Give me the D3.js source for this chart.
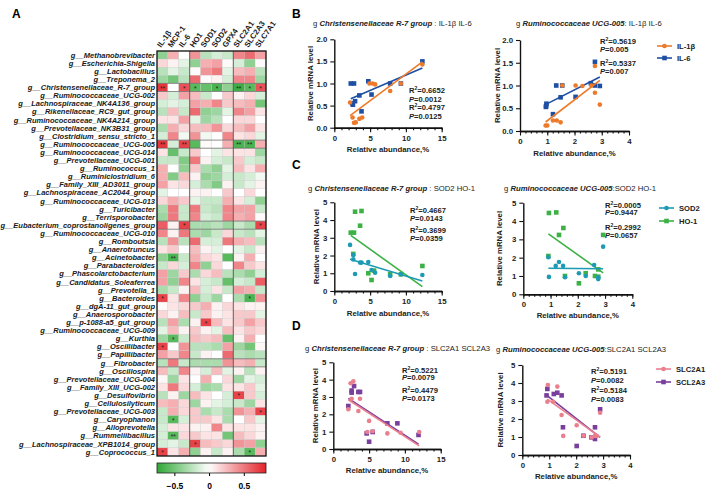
<!DOCTYPE html>
<html><head><meta charset="utf-8">
<script src="https://cdn.jsdelivr.net/npm/d3@7"></script>
<style>body{margin:0;background:#fff} text{font-family:"Liberation Sans",Arial,sans-serif}</style>
</head><body><svg id="c" width="708" height="493"></svg>
<script>
// ---------------- DATA ----------------
const genera = ["Methanobrevibacter","Escherichia-Shigella","Lactobacillus","Treponema_2","Christensenellaceae_R-7_group","Ruminococcaceae_UCG-002","Lachnospiraceae_NK4A136_group","Rikenellaceae_RC9_gut_group","Ruminococcaceae_NK4A214_group","Prevotellaceae_NK3B31_group","Clostridium_sensu_stricto_1","Ruminococcaceae_UCG-005","Ruminococcaceae_UCG-014","Prevotellaceae_UCG-001","Ruminococcus_1","Ruminiclostridium_6","Family_XIII_AD3011_group","Lachnospiraceae_AC2044_group","Ruminococcaceae_UCG-013","Turicibacter","Terrisporobacter","Eubacterium_coprostanoligenes_group","Ruminococcaceae_UCG-010","Romboutsia","Anaerotruncus","Acinetobacter","Parabacteroides","Phascolarctobacterium","Candidatus_Soleaferrea","Prevotella_1","Bacteroides","dgA-11_gut_group","Anaerosporobacter","p-1088-a5_gut_group","Ruminococcaceae_UCG-009","Kurthia","Oscillibacter","Papillibacter","Fibrobacter","Oscillospira","Prevotellaceae_UCG-004","Family_XIII_UCG-002","Desulfovibrio","Cellulosilyticum","Prevotellaceae_UCG-003","Caryophanon","Alloprevotella","Rummeliibacillus","Lachnospiraceae_XPB1014_group","Coprococcus_1"];
const genes = ["IL-1β","MCP-1","IL-6","HO1","SOD1","SOD2","GPX4","SLC2A1","SLC2A3","SLC7A1"];
const corr = [
[-0.4,0.3,0.0,0.4,-0.25,-0.15,-0.2,0.45,0.55,0.35],
[0.15,0.05,-0.1,-0.4,0.3,0.35,0.02,-0.15,-0.4,0.02],
[-0.25,-0.1,-0.2,0.02,0.4,0.5,-0.1,0.25,0.3,-0.25],
[-0.35,-0.5,-0.25,0.55,0.02,0.05,-0.15,0.45,0.45,-0.35],
[0.75,0.0,0.65,-0.6,-0.55,-0.65,-0.4,-0.7,-0.6,0.65],
[0.2,-0.15,0.35,0.25,-0.2,0.0,0.2,0.05,0.15,-0.15],
[-0.15,-0.1,-0.15,0.35,0.3,0.45,0.2,0.25,0.3,-0.5],
[-0.25,0.25,-0.2,0.55,-0.4,-0.35,-0.1,0.45,0.35,0.1],
[0.1,0.1,0.35,-0.1,-0.35,-0.25,0.0,0.15,0.15,0.0],
[-0.3,0.3,0.15,0.25,0.25,0.4,0.15,0.25,0.35,0.1],
[-0.15,0.45,-0.05,0.4,-0.05,0.0,0.45,0.1,0.15,-0.1],
[0.75,-0.15,0.7,-0.6,0.02,0.0,0.3,-0.65,-0.65,0.3],
[0.1,-0.55,-0.2,0.2,0.0,-0.1,0.1,0.1,0.1,-0.35],
[-0.2,-0.2,-0.45,0.5,0.05,-0.15,-0.2,0.2,-0.15,-0.2],
[0.3,0.0,-0.4,0.2,-0.3,-0.4,-0.1,0.25,0.1,0.3],
[0.3,-0.45,0.25,0.05,-0.4,-0.35,-0.15,-0.2,-0.15,-0.05],
[0.35,0.1,0.15,-0.15,-0.3,-0.45,0.05,-0.2,-0.1,0.05],
[-0.1,0.0,0.0,0.05,0.05,0.0,0.2,0.0,0.15,0.0],
[0.15,0.3,0.2,-0.1,-0.2,-0.2,0.3,0.1,-0.15,-0.4],
[-0.3,0.5,-0.2,0.5,-0.2,-0.25,0.45,0.35,0.35,-0.2],
[-0.35,0.5,-0.2,0.45,-0.15,-0.2,0.45,0.3,0.35,0.02],
[0.6,0.05,0.7,-0.3,-0.3,-0.25,-0.35,-0.2,-0.3,0.7],
[0.45,0.05,0.5,-0.3,-0.35,-0.2,0.15,-0.2,-0.25,-0.1],
[-0.25,0.4,-0.25,0.55,-0.15,-0.15,0.5,0.3,0.25,-0.25],
[0.1,0.2,0.0,0.25,0.05,-0.1,0.0,-0.1,-0.2,0.05],
[-0.4,-0.65,-0.2,0.3,0.15,0.1,-0.6,0.05,0.3,0.0],
[-0.2,0.15,-0.15,0.45,-0.4,0.15,0.0,0.45,0.2,0.1],
[0.35,-0.35,0.2,-0.3,0.15,0.25,-0.25,-0.3,-0.4,-0.15],
[0.35,-0.4,0.45,0.1,-0.15,-0.2,-0.55,-0.15,-0.2,0.6],
[-0.3,-0.2,0.05,0.25,-0.15,0.1,-0.2,0.35,0.3,-0.2],
[0.7,0.1,0.45,-0.4,-0.2,-0.35,0.0,-0.3,-0.65,0.4],
[0.02,0.1,0.15,0.2,0.3,0.05,0.15,0.1,0.05,0.05],
[0.15,0.05,0.25,-0.2,0.2,0.05,0.1,0.2,0.2,-0.1],
[-0.25,0.35,-0.3,0.05,0.7,0.25,0.1,0.2,0.35,0.2],
[-0.1,0.25,0.05,0.2,0.05,-0.1,0.25,0.1,0.2,0.15],
[-0.35,-0.6,-0.2,0.25,0.2,0.25,-0.55,0.05,0.3,0.0],
[0.7,0.0,0.4,-0.25,-0.25,-0.3,0.35,-0.35,-0.5,0.03],
[0.35,0.2,0.45,-0.2,0.05,0.0,0.55,-0.25,-0.3,-0.25],
[-0.25,0.5,-0.2,-0.3,-0.3,-0.3,0.4,0.25,0.3,-0.2],
[0.25,-0.2,0.45,0.05,-0.15,0.25,-0.1,0.05,-0.25,0.05],
[0.03,-0.35,0.1,0.0,0.3,0.0,0.15,-0.35,-0.1,-0.15],
[0.1,0.5,0.15,-0.15,-0.35,-0.3,0.1,0.1,0.2,-0.1],
[-0.25,0.05,-0.35,0.25,0.1,0.0,-0.15,0.7,0.2,-0.15],
[0.25,0.3,0.15,-0.35,0.05,-0.1,-0.15,-0.2,-0.35,0.1],
[-0.2,0.3,0.15,0.2,-0.3,-0.2,-0.3,0.4,0.3,0.7],
[-0.2,-0.6,-0.15,0.2,0.2,0.1,-0.3,0.0,0.2,-0.1],
[-0.15,0.1,0.1,0.05,0.05,0.45,0.1,0.1,0.1,0.05],
[-0.15,-0.6,0.15,0.2,0.1,0.1,-0.5,0.25,0.15,0.05],
[-0.15,-0.1,-0.2,0.7,0.25,0.2,0.15,0.4,0.35,-0.4],
[0.7,0.1,0.3,-0.4,0.05,-0.2,0.05,-0.3,-0.6,0.3]
];
const stars = [
["Christensenellaceae_R-7_group","IL-1β","**"],["Christensenellaceae_R-7_group","IL-6","*"],["Christensenellaceae_R-7_group","HO1","*"],["Christensenellaceae_R-7_group","SOD2","*"],["Christensenellaceae_R-7_group","SLC2A1","**"],["Christensenellaceae_R-7_group","SLC2A3","*"],["Christensenellaceae_R-7_group","SLC7A1","*"],
["Ruminococcaceae_UCG-005","IL-1β","**"],["Ruminococcaceae_UCG-005","IL-6","**"],["Ruminococcaceae_UCG-005","SLC2A1","**"],["Ruminococcaceae_UCG-005","SLC2A3","**"],
["Eubacterium_coprostanoligenes_group","IL-6","*"],["Eubacterium_coprostanoligenes_group","SLC7A1","*"],
["Acinetobacter","MCP-1","**"],["Bacteroides","IL-1β","*"],["Bacteroides","SLC2A3","*"],
["p-1088-a5_gut_group","SOD1","*"],["Kurthia","MCP-1","*"],["Oscillibacter","IL-1β","*"],
["Desulfovibrio","SLC2A1","*"],["Prevotellaceae_UCG-003","SLC7A1","*"],["Caryophanon","MCP-1","*"],
["Rummeliibacillus","MCP-1","**"],["Lachnospiraceae_XPB1014_group","HO1","*"],
["Coprococcus_1","IL-1β","*"],["Coprococcus_1","SLC2A3","*"]
];
const colorTicks = [-0.5, 0, 0.5];

// scatter data
const chrIL1bX = [2.2,2.55,2.75,3.0,3.5,3.9,4.9,5.35,5.7,7.8,9.3,12.3];
const chrIL1bY = [0.57,0.23,0.11,0.12,0.2,0.23,1.0,1.0,0.98,0.83,1.0,1.43];
const chrIL6X  = [2.3,2.75,2.5,2.6,2.9,3.5,3.8,4.75,5.2,7.8,9.3,12.3];
const chrIL6Y  = [1.0,1.0,0.55,0.52,0.6,0.73,0.37,1.05,0.75,1.0,1.0,1.5];
const rumIL1bX = [0.94,1.0,1.21,1.35,1.49,1.55,2.04,2.29,2.62,2.75,2.75,2.93];
const rumIL1bY = [0.12,0.12,0.23,0.23,0.19,1.0,1.0,0.99,1.0,1.43,0.84,0.58];
const rumIL6X  = [0.95,0.97,1.21,1.33,1.49,1.55,2.04,2.6,2.75,2.75,2.93,0.96];
const rumIL6Y  = [0.53,0.6,0.37,1.0,0.74,1.0,0.75,1.05,1.52,1.0,0.99,0.55];

const chrSOD2X = [2.2,2.65,2.65,2.9,3.6,3.8,4.75,5.2,5.7,7.8,9.3,12.3];
const chrSOD2Y = [2.6,2.03,1.78,0.96,1.6,1.6,1.63,1.18,1.03,0.85,0.94,0.9];
const chrHO1X  = [2.3,2.75,2.9,3.8,3.6,2.65,4.75,5.2,5.55,7.8,9.3,12.3];
const chrHO1Y  = [3.29,3.29,4.47,4.51,3.68,2.09,1.0,0.62,1.15,0.94,0.94,1.41];
const rumSOD2X = [0.92,0.94,1.19,1.31,1.46,1.53,2.04,2.29,2.6,2.75,2.75,2.93];
const rumSOD2Y = [2.02,0.95,1.55,1.76,1.55,0.93,1.15,1.0,1.6,0.93,0.83,2.6];
const rumHO1X  = [0.94,1.21,1.31,1.47,0.92,1.53,2.04,2.29,2.63,2.75,2.75,2.93];
const rumHO1Y  = [4.44,4.47,3.24,3.62,2.09,1.0,0.6,1.15,1.0,1.36,0.96,3.24];

const chrSLC2A1X = [2.42,2.8,2.56,2.1,3.5,3.73,5.0,4.75,5.5,7.55,9.4,12.0];
const chrSLC2A1Y = [3.79,3.9,2.9,2.29,2.19,2.9,1.62,0.98,1.02,0.9,0.94,0.98];
const chrSCL2A3X = [2.1,2.56,2.56,2.9,3.5,3.73,4.66,5.0,5.5,7.55,8.95,11.9];
const chrSCL2A3Y = [2.48,3.37,3.25,3.63,3.29,3.29,0.9,0.42,0.98,1.48,1.48,0.81];
const rumSLC2A1X = [0.95,0.93,1.15,1.3,1.46,1.52,2.02,2.27,2.58,2.7,2.76,2.89];
const rumSLC2A1Y = [3.89,2.96,2.96,3.8,2.22,1.06,1.65,1.07,0.98,1.06,1.06,2.35];
const rumSCL2A3X = [0.93,0.9,1.17,1.3,1.46,1.51,2.02,2.27,2.57,2.7,2.7,2.89];
const rumSCL2A3Y = [3.67,3.31,3.39,3.46,3.31,1.54,0.5,1.07,0.98,1.54,0.89,2.54];

const statsB1 = [["0.6652","0.0012"],["0.4797","0.0125"]];
const statsB2 = [["0.5619","0.005"],["0.5337","0.007"]];
const statsC1 = [["0.4667","0.0143"],["0.3699","0.0359"]];
const statsC2 = [["0.0005","0.9447"],["0.2992","0.0657"]];
const statsD1 = [["0.5221","0.0079"],["0.4479","0.0173"]];
const statsD2 = [["0.5191","0.0082"],["0.5184","0.0083"]];

// ---------------- DRAW ----------------
const svg = d3.select("#c");
const FONT = '"Liberation Sans", Arial, sans-serif';

[["A",12,18],["B",292,18],["C",292,169],["D",292,330]].forEach(([t,x,y])=>
  svg.append("text").attr("x",x).attr("y",y).attr("font-size",12).attr("font-weight","bold").text(t));

// heatmap
const hx = d3.scaleBand().domain(genes).range([157,266]);
const hy = d3.scaleBand().domain(genera).range([51,456]);
const col = d3.scaleLinear().domain([-0.75,0,0.82]).range(["#2ea835","#ffffff","#e3232a"]).clamp(true);
const hm = svg.append("g");
genera.forEach((g,i)=>genes.forEach((k,j)=>{
  hm.append("rect").attr("x",hx(k)).attr("y",hy(g)).attr("width",hx.bandwidth()).attr("height",hy.bandwidth())
    .attr("fill",col(corr[i][j])).attr("stroke","#c8c8c8").attr("stroke-width",0.3);
}));
stars.forEach(([g,k,s])=>hm.append("text").attr("x",hx(k)+hx.bandwidth()/2).attr("y",hy(g)+hy.bandwidth()/2+3.2)
  .attr("text-anchor","middle").attr("font-size",6.5).attr("fill","#222").text(s));
[3,7].forEach(j=>hm.append("line").attr("x1",hx(genes[j])).attr("x2",hx(genes[j])).attr("y1",51).attr("y2",456).attr("stroke","#444").attr("stroke-width",0.8));
[4,5,11,12,21,22,38,39].forEach(i=>hm.append("line").attr("x1",157).attr("x2",266).attr("y1",hy(genera[i])).attr("y2",hy(genera[i])).attr("stroke","#555").attr("stroke-width",0.6));
hm.append("rect").attr("x",157).attr("y",51).attr("width",109).attr("height",405).attr("fill","none").attr("stroke","#111").attr("stroke-width",1.3);
genera.forEach(g=>svg.append("text").attr("x",155).attr("y",hy(g)+hy.bandwidth()/2+2.7).attr("text-anchor","end")
  .attr("font-size",7.5).attr("font-weight","bold").attr("font-style","italic").attr("fill","#1a1a1a").text("g__"+g));
genes.forEach(k=>svg.append("text").attr("transform",`translate(${hx(k)+hx.bandwidth()/2-1.5},48) rotate(-55)`)
  .attr("font-size",7.8).attr("font-weight","bold").attr("fill","#1a1a1a").text(k));
// color bar
const defs = svg.append("defs");
const grad = defs.append("linearGradient").attr("id","cb");
d3.range(0,1.0001,0.05).forEach(t=>{
  const v = -0.75 + t*(0.82+0.75);
  grad.append("stop").attr("offset",t).attr("stop-color",col(v));
});
const cbx = d3.scaleLinear().domain([-0.75,0.82]).range([157,266]);
svg.append("rect").attr("x",157).attr("y",463).attr("width",109).attr("height",10).attr("fill","url(#cb)").attr("stroke","#222").attr("stroke-width",0.8);
const cbAxis = svg.append("g").attr("transform","translate(0,473)")
  .call(d3.axisBottom(cbx).tickValues(colorTicks).tickSize(3).tickFormat(d=>d===0?"0":d3.format(".1f")(d)));
cbAxis.select(".domain").remove();
cbAxis.selectAll("text").attr("font-size",8.5).attr("font-weight","bold").attr("font-family",FONT).attr("dy","1.2em");

// scatter
function regress(xs, ys){
  const mx=d3.mean(xs), my=d3.mean(ys);
  let sxy=0,sxx=0; xs.forEach((x,i)=>{sxy+=(x-mx)*(ys[i]-my); sxx+=(x-mx)*(x-mx);});
  const b=sxy/sxx; return [b, my-b*mx];
}
function scatter(p){
  const g = svg.append("g");
  const xs = d3.scaleLinear().domain([0,p.xmax]).range(p.xr);
  const ys = d3.scaleLinear().domain([0,p.ymax]).range(p.yr);
  const t = g.append("text").attr("x",p.title[0]).attr("y",p.title[1]).attr("font-size",7.7).attr("fill","#222");
  t.append("tspan").text("g  ");
  t.append("tspan").attr("font-style","italic").attr("font-weight","bold").text(p.genus);
  t.append("tspan").text(p.sep + p.genesTxt);
  const minor = d3.range(0,p.xmax+1e-9,p.minorStep);
  const major = d3.range(0,p.xmax+1e-9,p.majorStep);
  const gx = g.append("g").attr("transform",`translate(0,${ys(0)})`);
  gx.call(d3.axisBottom(xs).tickValues(minor).tickSize(2.5).tickFormat("").tickSizeOuter(0));
  gx.append("g").call(d3.axisBottom(xs).tickValues(major).tickSize(4.5).tickFormat(d3.format("d")).tickSizeOuter(0));
  const gy = g.append("g").attr("transform",`translate(${xs(0)},0)`);
  gy.call(d3.axisLeft(ys).tickValues(d3.range(0,p.ymax+1e-9,p.yStep)).tickSize(4).tickFormat(d3.format(p.yFmt)).tickSizeOuter(0));
  g.selectAll(".domain").attr("stroke","#111").attr("stroke-width",1.4);
  g.selectAll(".tick line").attr("stroke","#111").attr("stroke-width",1.1);
  g.selectAll(".tick text").attr("font-size",7.8).attr("font-weight","bold").attr("font-family",FONT).attr("fill","#222");
  g.append("text").attr("x",(p.xr[0]+p.xr[1])/2).attr("y",p.xlabY).attr("text-anchor","middle")
    .attr("font-size",7.8).attr("font-weight","bold").attr("fill","#222").text("Relative abundance,%");
  g.append("text").attr("transform",`translate(${p.ylabX},${(p.yr[0]+p.yr[1])/2}) rotate(-90)`).attr("text-anchor","middle")
    .attr("font-size",7.8).attr("font-weight","bold").attr("fill","#222").text("Relative mRNA level");
  p.series.slice().reverse().forEach(s=>{
    const [b,a] = regress(s.x,s.y);
    const x0=d3.min(s.x), x1=d3.max(s.x);
    s.x.forEach((x,i)=>{
      if(s.shape==="circle") g.append("circle").attr("cx",xs(x)).attr("cy",ys(s.y[i])).attr("r",2.3).attr("fill",s.color);
      else g.append("rect").attr("x",xs(x)-2.3).attr("y",ys(s.y[i])-2.3).attr("width",4.6).attr("height",4.6).attr("fill",s.color);
    });
    g.append("line").attr("x1",xs(x0)).attr("y1",ys(a+b*x0)).attr("x2",xs(x1)).attr("y2",ys(a+b*x1))
      .attr("stroke",s.color).attr("stroke-width",1.6);
  });
  p.stats.forEach((st,i)=>{
    const [sx,sy1,sy2] = p.statPos[i];
    const a = g.append("text").attr("x",sx).attr("y",sy1).attr("font-size",7.6).attr("font-weight","bold").attr("fill","#222");
    a.append("tspan").text("R");
    a.append("tspan").attr("font-size",5).attr("dy",-3).text("2");
    a.append("tspan").attr("dy",3).text("="+st[0]);
    const b2 = g.append("text").attr("x",sx).attr("y",sy2).attr("font-size",7.6).attr("font-weight","bold").attr("fill","#222");
    b2.append("tspan").attr("font-style","italic").text("P");
    b2.append("tspan").text("="+st[1]);
  });
  if(p.legend){
    p.series.forEach((s,i)=>{
      const [lx,ly] = p.legend[i];
      g.append("line").attr("x1",lx).attr("x2",lx+15).attr("y1",ly).attr("y2",ly).attr("stroke",s.color).attr("stroke-width",1.6);
      if(s.shape==="circle") g.append("circle").attr("cx",lx+7.5).attr("cy",ly).attr("r",2.3).attr("fill",s.color);
      else g.append("rect").attr("x",lx+5.2).attr("y",ly-2.3).attr("width",4.6).attr("height",4.6).attr("fill",s.color);
      g.append("text").attr("x",lx+20).attr("y",ly+2.7).attr("font-size",7.6).attr("font-weight","bold").attr("fill","#222").text(s.name);
    });
  }
}

const cOrange="#ec7a2a", cBlue="#1e4fa3", cTeal="#1e9ab4", cGreen="#3db146", cPink="#ea7f8e", cPurple="#7a3e9d";
const serIL = (x1,y1,x2,y2)=>[{name:"IL-1β",x:x1,y:y1,color:cOrange,shape:"circle"},{name:"IL-6",x:x2,y:y2,color:cBlue,shape:"rect"}];
const serOX = (x1,y1,x2,y2)=>[{name:"SOD2",x:x1,y:y1,color:cTeal,shape:"circle"},{name:"HO-1",x:x2,y:y2,color:cGreen,shape:"rect"}];
const serSLC = (x1,y1,x2,y2)=>[{name:"SLC2A1",x:x1,y:y1,color:cPink,shape:"circle"},{name:"SCL2A3",x:x2,y:y2,color:cPurple,shape:"rect"}];

scatter({xr:[334.3,441.7], yr:[127.7,39.3], xmax:15, ymax:2, yStep:0.5, yFmt:".1f", majorStep:5, minorStep:1,
  title:[313,26], genus:"Christensenellaceae R-7 group", sep:" : ", genesTxt:"IL-1β IL-6",
  xlabY:152, ylabX:313, series:serIL(chrIL1bX,chrIL1bY,chrIL6X,chrIL6Y), stats:statsB1,
  statPos:[[409,93,101.5],[409,110,118.5]]});
scatter({xr:[520,629], yr:[131,40], xmax:4, ymax:2, yStep:0.5, yFmt:".1f", majorStep:1, minorStep:0.2,
  title:[516,26], genus:"Ruminococcaceae UCG-005", sep:": ", genesTxt:"IL-1β IL-6",
  xlabY:156, ylabX:500, series:serIL(rumIL1bX,rumIL1bY,rumIL6X,rumIL6Y), stats:statsB2,
  statPos:[[600,44,52],[600,66,74]], legend:[[657,46],[657,58]]});
scatter({xr:[334.3,441.7], yr:[291,202.3], xmax:15, ymax:5, yStep:1, yFmt:"d", majorStep:5, minorStep:1,
  title:[308,191], genus:"Christensenellaceae R-7 group", sep:" : ", genesTxt:"SOD2 HO-1",
  xlabY:316, ylabX:319, series:serOX(chrSOD2X,chrSOD2Y,chrHO1X,chrHO1Y), stats:statsC1,
  statPos:[[410,212.5,221],[410,232.5,241]]});
scatter({xr:[523.3,632.3], yr:[294.3,202.7], xmax:4, ymax:5, yStep:1, yFmt:"d", majorStep:1, minorStep:0.2,
  title:[504,191], genus:"Ruminococcaceae UCG-005", sep:":", genesTxt:"SOD2 HO-1",
  xlabY:318, ylabX:502, series:serOX(rumSOD2X,rumSOD2Y,rumHO1X,rumHO1Y), stats:statsC2,
  statPos:[[605,207.5,215],[605,230,237.5]], legend:[[659,208],[659,221]]});
scatter({xr:[333.3,440.7], yr:[449,362.3], xmax:15, ymax:5, yStep:1, yFmt:"d", majorStep:5, minorStep:1,
  title:[305,351], genus:"Christensenellaceae R-7 group", sep:" : ", genesTxt:"SLC2A1 SCL2A3",
  xlabY:473, ylabX:318, series:serSLC(chrSLC2A1X,chrSLC2A1Y,chrSCL2A3X,chrSCL2A3Y), stats:statsD1,
  statPos:[[402,372.5,380],[402,392.5,401]]});
scatter({xr:[522.3,630], yr:[455,365], xmax:4, ymax:5, yStep:1, yFmt:"d", majorStep:1, minorStep:0.2,
  title:[496,352], genus:"Ruminococcaceae UCG-005", sep:":", genesTxt:"SLC2A1 SCL2A3",
  xlabY:479, ylabX:503, series:serSLC(rumSLC2A1X,rumSLC2A1Y,rumSCL2A3X,rumSCL2A3Y), stats:statsD2,
  statPos:[[591,374,382.5],[591,393,401.5]], legend:[[656,369],[656,382]]});
</script></body></html>
